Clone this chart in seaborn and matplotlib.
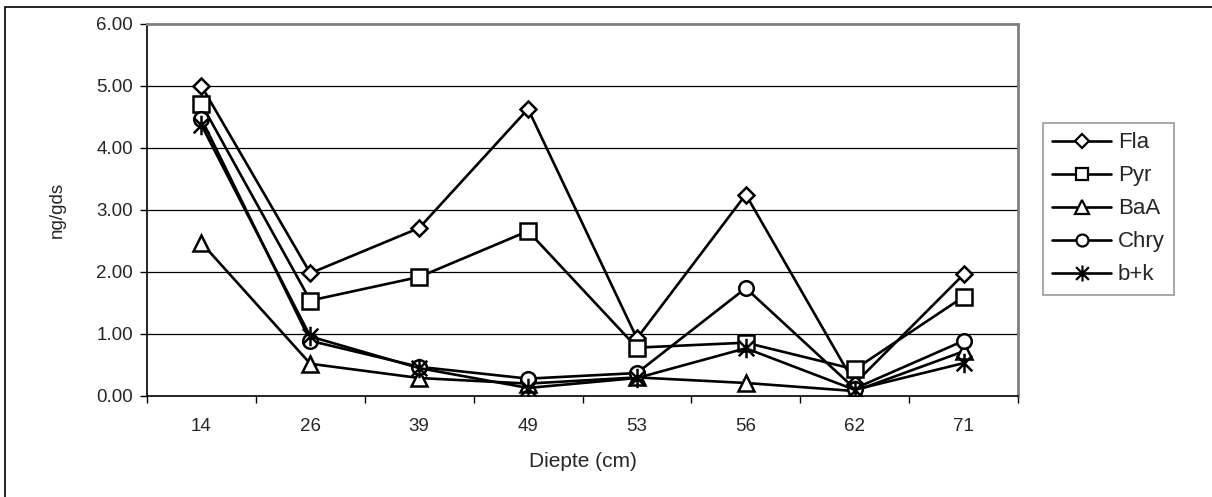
import matplotlib
matplotlib.use("Agg")
import matplotlib.pyplot as plt
from matplotlib.patches import Rectangle
from matplotlib.lines import Line2D
from matplotlib.path import Path
import seaborn as sns
import pandas as pd
import numpy as np

depths = ["14", "26", "39", "49", "53", "56", "62", "71"]
series_names = ["Fla", "Pyr", "BaA", "Chry", "b+k"]
fla = [5.00, 1.98, 2.71, 4.63, 0.93, 3.25, 0.20, 1.96]
pyr = [4.71, 1.54, 1.92, 2.66, 0.78, 0.86, 0.43, 1.60]
baa = [2.47, 0.52, 0.29, 0.20, 0.30, 0.21, 0.08, 0.72]
chry = [4.47, 0.89, 0.47, 0.28, 0.37, 1.74, 0.12, 0.89]
bk = [4.37, 0.96, 0.45, 0.13, 0.29, 0.77, 0.10, 0.53]
y_ticks = [0, 1, 2, 3, 4, 5, 6]

values = [fla, pyr, baa, chry, bk]
rows = []
for name, vals in zip(series_names, values):
    for i, (d, v) in enumerate(zip(depths, vals)):
        rows.append({"pos": i, "depth": d, "value": v, "series": name})
df = pd.DataFrame(rows)

sns.set_theme(style="white")
plt.rcParams["font.family"] = ["Liberation Sans", "DejaVu Sans"]

fig = plt.figure(figsize=(12.12, 4.97), dpi=100)
ax = fig.add_axes([147 / 1212, 101 / 497, (1018 - 147) / 1212, (396 - 24) / 497])

# Excel-style star: vertical stroke plus an X
star_path = Path(
    [(0, -1), (0, 1), (-0.8, -0.8), (0.8, 0.8), (-0.8, 0.8), (0.8, -0.8)],
    [Path.MOVETO, Path.LINETO, Path.MOVETO, Path.LINETO, Path.MOVETO, Path.LINETO],
)

marker_map = {"Fla": "D", "Pyr": "s", "BaA": "^", "Chry": "o", "b+k": star_path}
size_map = {"Fla": 8.5, "Pyr": 11, "BaA": 11.5, "Chry": 10.5, "b+k": 14}

for name in series_names:
    sub = df[df["series"] == name]
    sns.lineplot(data=sub, x="pos", y="value", ax=ax, color="black", lw=1.9,
                 marker=marker_map[name], markersize=size_map[name],
                 markerfacecolor="white", markeredgecolor="black",
                 markeredgewidth=1.8, legend=False, zorder=3)

ax.set_xlim(-0.5, len(depths) - 0.5)
ax.set_ylim(0, 6)
ax.set_yticks(y_ticks)
ax.set_yticklabels([f"{t:.2f}" for t in y_ticks], fontsize=13.5)
ax.set_xticks(np.arange(len(depths)))
ax.set_xticklabels(depths, fontsize=13.5)
ax.set_xticks(np.arange(len(depths) + 1) - 0.5, minor=True)
ax.tick_params(axis="x", which="major", length=0, pad=16)
ax.tick_params(axis="x", which="minor", length=5, width=1, color="black", direction="out", bottom=True)
ax.tick_params(axis="y", which="major", length=5, width=1, color="black", direction="out", left=True, pad=5)

for yv in y_ticks[1:-1]:
    ax.axhline(yv, color="black", lw=0.9, zorder=1)

for s in ["left", "bottom"]:
    ax.spines[s].set_color("black")
    ax.spines[s].set_linewidth(1.2)
for s in ["top", "right"]:
    ax.spines[s].set_color("#808080")
    ax.spines[s].set_linewidth(2)

ax.set_xlabel("Diepte (cm)", fontsize=15, labelpad=12)
ax.set_ylabel("ng/gds", fontsize=13.5, labelpad=22)

handles = [Line2D([0], [0], color="black", lw=1.9, marker=marker_map[n],
                  markersize=size_map[n] * 0.82, markerfacecolor="white",
                  markeredgecolor="black", markeredgewidth=1.6) for n in series_names]
leg = ax.legend(handles, series_names, loc="upper left",
                bbox_to_anchor=(1043 / 1212, (497 - 123) / 497),
                bbox_transform=fig.transFigure, borderaxespad=0,
                fontsize=16, frameon=True, fancybox=False, handlelength=2.65,
                handletextpad=0.3, labelspacing=0.54, borderpad=0.42)
leg.get_frame().set_edgecolor("#808080")
leg.get_frame().set_linewidth(1.2)

fig.patches.append(Rectangle((5 / 1212, -0.1), 1.2, (497 - 7) / 497 + 0.1,
                             transform=fig.transFigure, fill=False,
                             edgecolor="black", lw=1.2, zorder=0))

fig.savefig("out.png", dpi=100, facecolor="white")
